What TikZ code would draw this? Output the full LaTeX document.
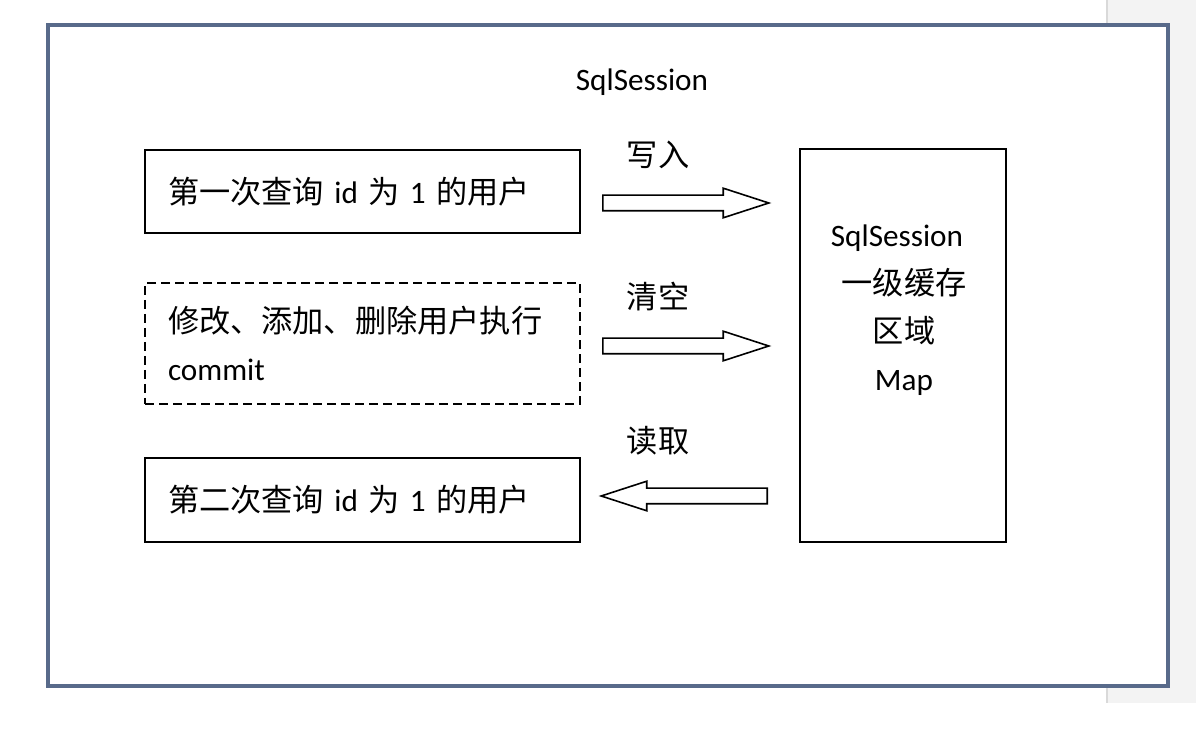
\documentclass[tikz,border=0pt]{standalone}
\usepackage{fontspec}
\setmainfont{Carlito}
\newfontfamily\cjk{Noto Sans CJK SC}
\usetikzlibrary{shapes.arrows}
\newcommand{\zh}[1]{{\cjk #1}}
\definecolor{framecol}{RGB}{88,106,138}
\definecolor{stripcol}{RGB}{243,243,243}

\begin{document}
\begin{tikzpicture}[
  x=0.5pt, y=-0.5pt,
  box/.style={draw, line width=0.8pt, minimum width=217.5pt,
              text width=194.5pt, align=left, inner xsep=11.5pt,
              font=\fontsize{15.6}{24}\selectfont},
  blockarrow/.style={single arrow, draw, line width=0.8pt, fill=white,
              minimum height=83pt, inner xsep=0pt, inner ysep=3.5pt,
              single arrow head extend=3.5pt, single arrow head indent=0pt,
              single arrow tip angle=36},
  lbl/.style={font=\fontsize{15.6}{18}\selectfont},
]
  \useasboundingbox (0,0) rectangle (1196,732);
  % page edge on the right
  \fill[stripcol] (1107,0) rectangle (1196,703);
  \draw[black!15, line width=1pt] (1107,0) -- (1107,703);

  % outer SqlSession frame
  \node[draw=framecol, line width=1.6pt, fill=white, minimum width=560pt,
        minimum height=330.5pt] (frame) at (608,355.5) {};
  \node[lbl] (title) at (642,82) {SqlSession};

  % query boxes on the left
  \node[box, minimum height=41.5pt] (first) at (362.5,191.5)
    {\zh{第一次查询} id \zh{为} 1 \zh{的用户}};
  \node[box, dash pattern=on 4.5pt off 2.5pt, minimum height=60.5pt] (change) at (362.5,343.5)
    {\zh{修改、添加、删除用户执行}\\commit};
  \node[box, minimum height=42pt] (second) at (362.5,500)
    {\zh{第二次查询} id \zh{为} 1 \zh{的用户}};

  % cache area on the right
  \node[draw, line width=1.1pt, minimum width=103pt, minimum height=196.5pt]
    (cache) at (903,345.5) {};
  \node[align=center, font=\fontsize{15.6}{24}\selectfont] (cachetext) at (904,310)
    {SqlSession\hspace*{7pt}\\\zh{一级缓存}\\\zh{区域}\\Map};

  % block arrows with their labels
  \node[blockarrow, anchor=tail] (write) at (602,203) {};
  \node[lbl] at (658,155) {\zh{写入}};
  \node[blockarrow, anchor=tail] (clear) at (602,346) {};
  \node[lbl] at (658,297) {\zh{清空}};
  \node[blockarrow, shape border rotate=180, anchor=tail] (read) at (768,496) {};
  \node[lbl] at (658,441) {\zh{读取}};
\end{tikzpicture}
\end{document}
